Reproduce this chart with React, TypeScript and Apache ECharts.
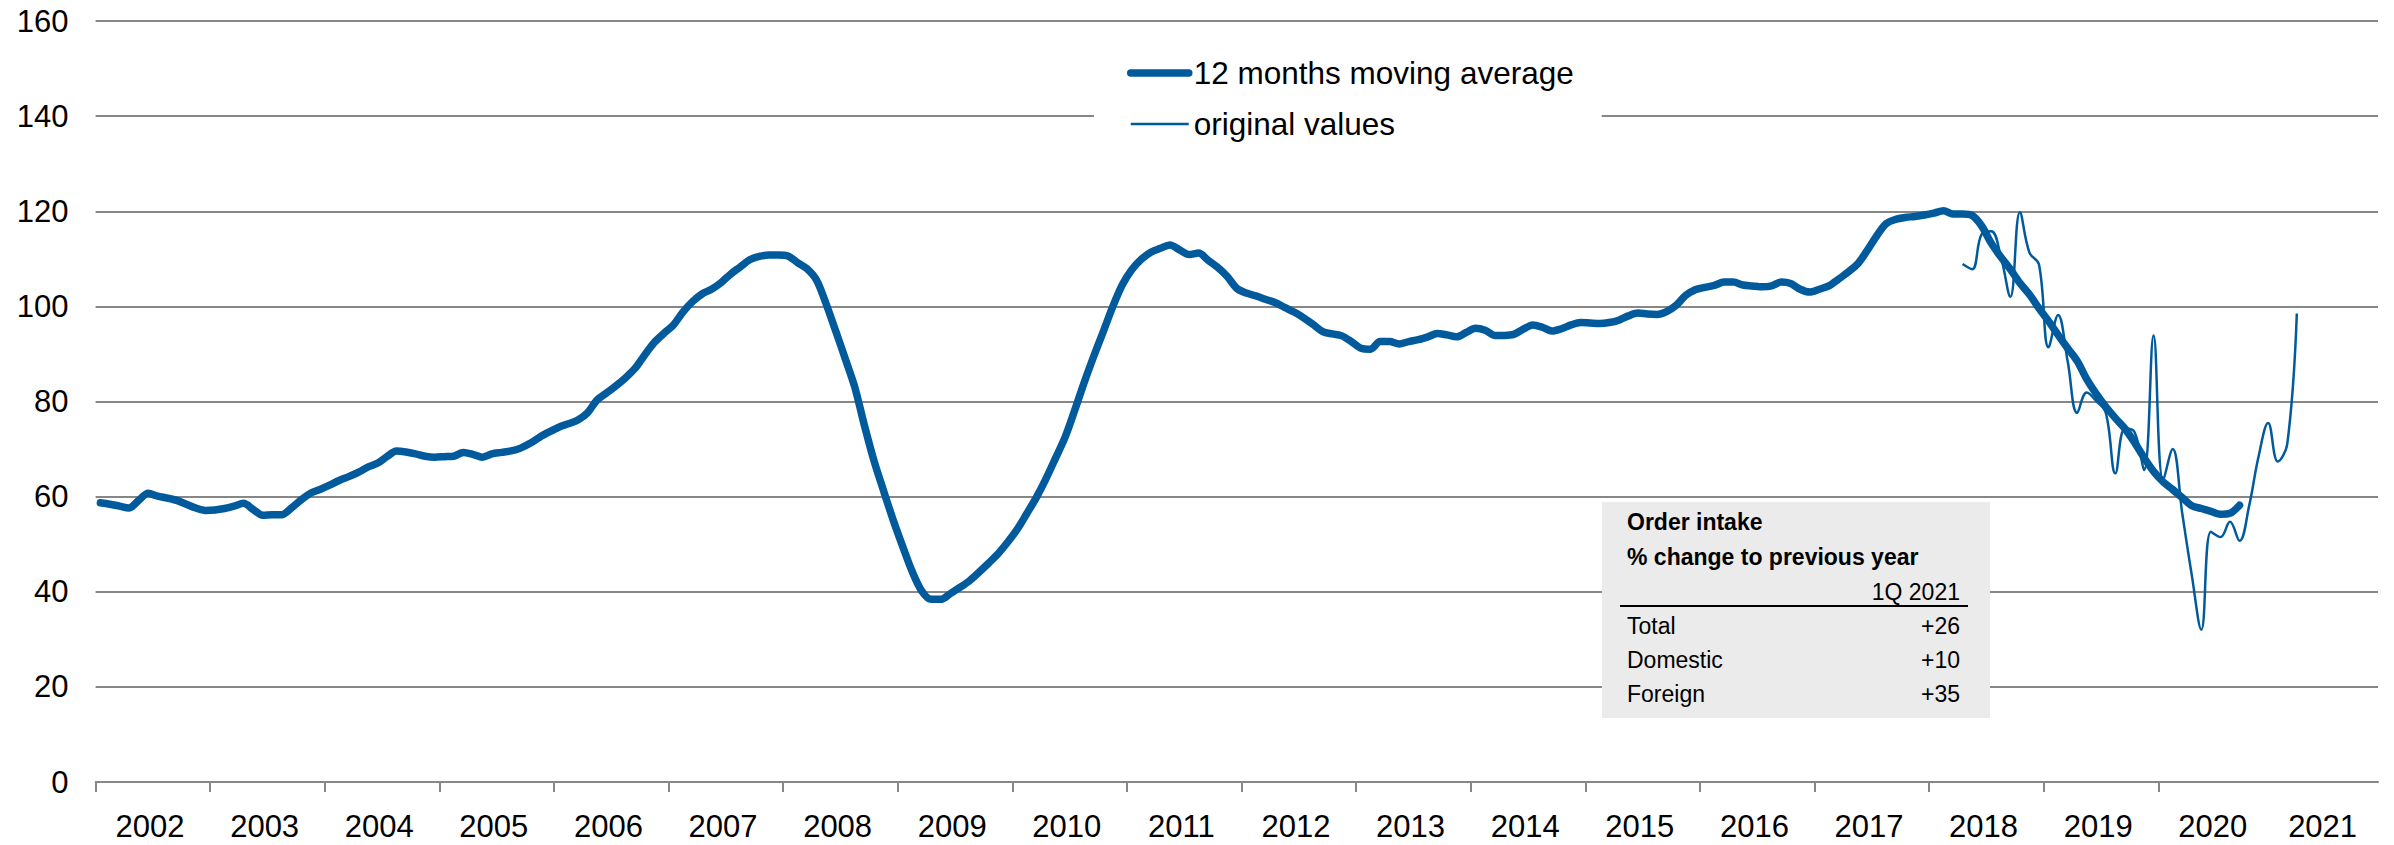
import React, { useEffect, useRef } from "react";
import * as echarts from "echarts";

// ---- data ----
const firstMonth = "2002-01"; // first month of the moving-average series
const origFirstMonth = "2018-04"; // first month of the original values
const years = [2002, 2003, 2004, 2005, 2006, 2007, 2008, 2009, 2010, 2011, 2012, 2013, 2014, 2015, 2016, 2017, 2018, 2019, 2020, 2021];
const yTicks = [0, 20, 40, 60, 80, 100, 120, 140, 160];

// 12 months moving average (monthly, Jan 2002 – Sep 2020)
const movingAverage = [
  // 2002
  58.7, 58.4, 58.0, 57.6, 59.2, 60.7, 60.1, 59.7, 59.2, 58.4, 57.6, 57.1,
  // 2003
  57.2, 57.5, 58.0, 58.6, 57.3, 56.1, 56.2, 56.2, 57.6, 59.3, 60.7, 61.5,
  // 2004
  62.4, 63.4, 64.2, 65.1, 66.2, 67.0, 68.4, 69.6, 69.4, 69.0, 68.5, 68.3,
  // 2005
  68.4, 68.5, 69.3, 68.9, 68.3, 69.0, 69.3, 69.6, 70.2, 71.2, 72.5, 73.6,
  // 2006
  74.6, 75.3, 76.1, 77.6, 80.3, 81.8, 83.3, 85.0, 87.0, 89.8, 92.4, 94.3,
  // 2007
  96.1, 98.8, 101.0, 102.6, 103.6, 105.0, 106.8, 108.3, 109.8, 110.5, 110.8, 110.8,
  // 2008
  110.6, 109.2, 107.9, 105.5, 100.5, 94.8, 89.0, 83.0, 75.0, 67.6, 61.3, 55.2,
  // 2009
  49.6, 44.3, 40.2, 38.4, 38.4, 39.6, 40.9, 42.3, 44.1, 46.0, 48.0, 50.4,
  // 2010
  53.1, 56.4, 59.8, 63.7, 68.0, 72.4, 78.0, 83.9, 89.4, 94.6, 99.9, 104.5,
  // 2011
  107.7, 109.9, 111.4, 112.2, 112.9, 111.9, 110.9, 111.2, 109.7, 108.2, 106.3, 103.8,
  // 2012
  102.8, 102.2, 101.5, 100.8, 99.8, 98.8, 97.6, 96.2, 94.7, 94.2, 93.8, 92.6,
  // 2013
  91.2, 91.0, 92.6, 92.6, 92.1, 92.6, 93.0, 93.6, 94.3, 94.0, 93.6, 94.5,
  // 2014
  95.4, 95.0, 93.9, 93.9, 94.1, 95.2, 96.1, 95.6, 94.8, 95.3, 96.1, 96.6,
  // 2015
  96.5, 96.4, 96.6, 97.1, 98.0, 98.6, 98.4, 98.3, 98.9, 100.2, 102.3, 103.5,
  // 2016
  104.0, 104.4, 105.1, 105.1, 104.5, 104.3, 104.1, 104.3, 105.1, 104.8, 103.6, 103.0,
  // 2017
  103.6, 104.3, 105.7, 107.2, 108.9, 111.7, 114.8, 117.4, 118.3, 118.7, 118.9, 119.2,
  // 2018
  119.6, 120.1, 119.4, 119.4, 119.1, 116.9, 113.3, 110.4, 107.8, 104.9, 102.5, 99.6,
  // 2019
  96.9, 94.0, 91.2, 88.5, 84.7, 81.6, 78.9, 76.5, 74.3, 71.4, 68.2, 65.3,
  // 2020
  63.1, 61.5, 59.8, 58.1, 57.5, 56.9, 56.3, 56.5, 58.2,
];

// original values (monthly, Apr 2018 – Mar 2021)
const originalValues = [
  108.9, 107.8, 115.2, 115.8, 110.5, 102.0, 119.8, 111.3, 108.8,
  91.4, 98.2, 88.5, 77.6, 81.9, 80.1, 77.6, 64.9, 74.3, 73.6, 65.6, 93.9,
  63.4, 70.0, 56.5, 43.5, 32.0, 52.6, 51.5, 54.7, 50.7, 58.0, 68.5, 75.5,
  67.4, 71.1, 98.5,
];

const seriesNames = ["12 months moving average", "original values"];

const tableTitle = ["Order intake", "% change to previous year"];
const tableColumn = "1Q 2021";
const tableRows = ["Total", "Domestic", "Foreign"];
const tableValues = ["+26", "+10", "+35"];

// ---- helpers ----
const monthIndex = (s: string) => {
  const [y, m] = s.split("-").map(Number);
  const [y0, m0] = firstMonth.split("-").map(Number);
  return (y - y0) * 12 + (m - m0);
};

const FONT = '"Liberation Sans", Arial, sans-serif';
const BLUE = "#005a9b";
const GRID = "#878787";
const HIDDEN_ITEM = { color: "rgba(0,0,0,0)", borderWidth: 0, opacity: 0 };

export default function App() {
  const ref = useRef<HTMLDivElement>(null);

  useEffect(() => {
    document.body.style.margin = "0";
    if (!ref.current) return;
    const chart = echarts.init(ref.current, null, { renderer: "svg" });

    const xMax = 239;
    const origStart = monthIndex(origFirstMonth);
    const maData = movingAverage.map((v, i) => [i + 0.5, v]);
    const origData = originalValues.map((v, i) => [origStart + i + 0.5, v]);
    const tickValues = years.slice(0, -1).map((_, i) => i * 12);
    const labelValues = years.map((_, i) => {
      const a = i * 12;
      const b = Math.min(a + 12, xMax);
      return (a + b) / 2 - 0.3;
    });

    const left = 1602, top = 502, w = 388, h = 216;
    const textL = 1627, textR = 1960;
    const graphics: any[] = [
      { type: "rect", shape: { x: left, y: top, width: w, height: h }, style: { fill: "#ebebeb" }, z: 10 },
      ...tableTitle.map((t, i) => ({
        type: "text", z: 11,
        style: { text: t, x: textL, y: 522 + i * 35, font: `bold 23px ${FONT}`, fill: "#000", textAlign: "left", textVerticalAlign: "middle" },
      })),
      {
        type: "text", z: 11,
        style: { text: tableColumn, x: textR, y: 592, font: `23px ${FONT}`, fill: "#000", textAlign: "right", textVerticalAlign: "middle" },
      },
      { type: "line", z: 11, shape: { x1: 1620, y1: 606, x2: 1968, y2: 606 }, style: { stroke: "#000", lineWidth: 2 } },
      ...tableRows.flatMap((r, i) => [
        {
          type: "text", z: 11,
          style: { text: r, x: textL, y: 626 + i * 34, font: `23px ${FONT}`, fill: "#000", textAlign: "left", textVerticalAlign: "middle" },
        },
        {
          type: "text", z: 11,
          style: { text: tableValues[i], x: textR, y: 626 + i * 34, font: `23px ${FONT}`, fill: "#000", textAlign: "right", textVerticalAlign: "middle" },
        },
      ]),
    ];

    chart.setOption({
      animation: false,
      backgroundColor: "#fff",
      textStyle: { fontFamily: FONT },
      grid: { left: 95.6, right: 16, top: 21, bottom: 63, containLabel: false },
      legend: {
        orient: "vertical",
        left: 1094,
        top: 47,
        padding: [10, 28, 10, 33],
        backgroundColor: "#fff",
        itemWidth: 58,
        itemHeight: 14,
        itemGap: 19,
        itemStyle: HIDDEN_ITEM,
        textStyle: { fontSize: 31.5, color: "#000", fontFamily: FONT },
        data: [
          { name: seriesNames[0], itemStyle: HIDDEN_ITEM, lineStyle: { width: 7.5, cap: "round", color: BLUE } },
          { name: seriesNames[1], itemStyle: HIDDEN_ITEM, lineStyle: { width: 2.5, color: BLUE } },
        ],
        selectedMode: false,
      },
      xAxis: {
        type: "value",
        min: 0,
        max: xMax,
        interval: 12,
        axisLine: { show: true, lineStyle: { color: GRID, width: 2 } },
        axisTick: { show: true, length: 10, customValues: tickValues, lineStyle: { color: GRID, width: 2 } },
        splitLine: { show: false },
        axisLabel: {
          show: true,
          customValues: labelValues,
          formatter: (v: number) => String(years[Math.min(years.length - 1, Math.floor(v / 12))]),
          fontSize: 31,
          color: "#000",
          margin: 29,
          fontFamily: FONT,
        },
      },
      yAxis: {
        type: "value",
        min: yTicks[0],
        max: yTicks[yTicks.length - 1],
        interval: yTicks[1] - yTicks[0],
        axisLine: { show: false },
        axisTick: { show: false },
        splitLine: { show: true, lineStyle: { color: GRID, width: 2 } },
        axisLabel: { fontSize: 31, color: "#000", margin: 27, fontFamily: FONT },
      },
      series: [
        {
          name: seriesNames[1],
          type: "line",
          data: origData,
          symbol: "none",
          showSymbol: false,
          smooth: 0.4,
          lineStyle: { width: 2.5, color: BLUE },
          itemStyle: { color: BLUE },
          z: 2,
        },
        {
          name: seriesNames[0],
          type: "line",
          data: maData,
          symbol: "none",
          showSymbol: false,
          smooth: 0.3,
          lineStyle: { width: 7.5, color: BLUE, cap: "round", join: "round" },
          itemStyle: { color: BLUE },
          z: 3,
        },
      ],
      graphic: graphics,
    });

    return () => chart.dispose();
  }, []);

  return <div ref={ref} style={{ width: 2394, height: 845 }} />;
}
